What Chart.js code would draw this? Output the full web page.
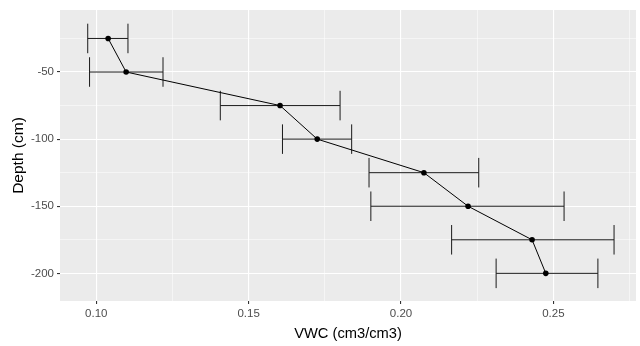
<!DOCTYPE html>
<html>
<head>
<meta charset="utf-8">
<script src="https://cdn.jsdelivr.net/npm/chart.js@4"></script>
<style>
html,body{margin:0;padding:0;background:#fff;}
#wrap{width:640px;height:346px;}
</style>
</head>
<body>
<div id="wrap"><canvas id="c" width="640" height="346"></canvas></div>
<script>
// Data
const depth = [-25, -50, -75, -100, -125, -150, -175, -200];
const vwc   = [0.1039, 0.1098, 0.1603, 0.1725, 0.2075, 0.2220, 0.2430, 0.2475];
const vwcLow  = [0.0972, 0.0978, 0.1407, 0.1611, 0.1895, 0.1901, 0.2166, 0.2312];
const vwcHigh = [0.1104, 0.1219, 0.1800, 0.1838, 0.2255, 0.2535, 0.2699, 0.2646];
const xTicks = [0.10, 0.125, 0.15, 0.175, 0.20, 0.225, 0.25, 0.275];
const xMajor = [0.10, 0.15, 0.20, 0.25];
const yTicks = [-25, -50, -75, -100, -125, -150, -175, -200];
const yMajor = [-50, -100, -150, -200];
const capHalf = 11; // error bar cap half-height, depth units

const isMajor = (arr, v) => arr.some(m => Math.abs(m - v) < 1e-9);

const bgPlugin = {
  id: 'panelBg',
  beforeDraw(chart) {
    const {ctx, chartArea: a} = chart;
    ctx.save();
    ctx.fillStyle = '#EBEBEB';
    ctx.fillRect(a.left, a.top, a.right - a.left, a.bottom - a.top);
    ctx.restore();
  }
};

const errPlugin = {
  id: 'errBars',
  beforeDatasetsDraw(chart) {
    const {ctx, scales: {x, y}} = chart;
    ctx.save();
    ctx.strokeStyle = '#1a1a1a';
    ctx.lineWidth = 1;
    for (let i = 0; i < depth.length; i++) {
      const x0 = x.getPixelForValue(vwcLow[i]);
      const x1 = x.getPixelForValue(vwcHigh[i]);
      const yc = y.getPixelForValue(depth[i]);
      const yt = y.getPixelForValue(depth[i] + capHalf);
      const yb = y.getPixelForValue(depth[i] - capHalf);
      ctx.beginPath();
      ctx.moveTo(x0, yc); ctx.lineTo(x1, yc);
      ctx.moveTo(x0, yt); ctx.lineTo(x0, yb);
      ctx.moveTo(x1, yt); ctx.lineTo(x1, yb);
      ctx.stroke();
    }
    ctx.restore();
  }
};

new Chart(document.getElementById('c'), {
  type: 'scatter',
  data: {
    datasets: [{
      data: vwc.map((v, i) => ({x: v, y: depth[i]})),
      showLine: true,
      borderColor: '#000',
      borderWidth: 1,
      backgroundColor: '#000',
      pointRadius: 2.8,
      pointHoverRadius: 2.8,
      pointBorderWidth: 0,
      tension: 0
    }]
  },
  options: {
    responsive: false,
    animation: false,
    events: [],
    layout: {padding: {top: 10, right: 4, left: 0, bottom: 0}},
    plugins: {legend: {display: false}, tooltip: {enabled: false}},
    scales: {
      x: {
        type: 'linear',
        min: 0.0881,
        max: 0.2771,
        afterBuildTicks(s) { s.ticks = xTicks.map(v => ({value: v})); },
        afterFit(s) { s.height = 45; },
        border: {display: false},
        grid: {
          color: ctx => '#FFFFFF',
          lineWidth: ctx => isMajor(xMajor, ctx.tick.value) ? 1.1 : 0.5,
          tickColor: ctx => isMajor(xMajor, ctx.tick.value) ? '#333333' : 'rgba(0,0,0,0)',
          tickLength: 3,
          drawTicks: true
        },
        ticks: {
          autoSkip: false,
          maxRotation: 0,
          padding: 3,
          color: '#4D4D4D',
          font: {family: 'Liberation Sans, Arial, sans-serif', size: 11.5},
          callback: v => isMajor(xMajor, v) ? v.toFixed(2) : ''
        },
        title: {
          display: true,
          text: 'VWC (cm3/cm3)',
          color: '#000',
          font: {family: 'Liberation Sans, Arial, sans-serif', size: 14.7},
          padding: {top: 0, bottom: 3}
        }
      },
      y: {
        type: 'linear',
        min: -220.6,
        max: -3.8,
        afterBuildTicks(s) { s.ticks = yTicks.map(v => ({value: v})); },
        afterFit(s) { s.width = 60; },
        border: {display: false},
        grid: {
          color: ctx => '#FFFFFF',
          lineWidth: ctx => isMajor(yMajor, ctx.tick.value) ? 1.1 : 0.5,
          tickColor: ctx => isMajor(yMajor, ctx.tick.value) ? '#333333' : 'rgba(0,0,0,0)',
          tickLength: 3,
          drawTicks: true
        },
        ticks: {
          autoSkip: false,
          padding: 3,
          color: '#4D4D4D',
          font: {family: 'Liberation Sans, Arial, sans-serif', size: 11.5},
          callback: v => isMajor(yMajor, v) ? String(v) : ''
        },
        title: {
          display: true,
          text: 'Depth (cm)',
          color: '#000',
          font: {family: 'Liberation Sans, Arial, sans-serif', size: 15.5},
          padding: {top: 9.7, bottom: 0}
        }
      }
    }
  },
  plugins: [bgPlugin, errPlugin]
});
</script>
</body>
</html>
